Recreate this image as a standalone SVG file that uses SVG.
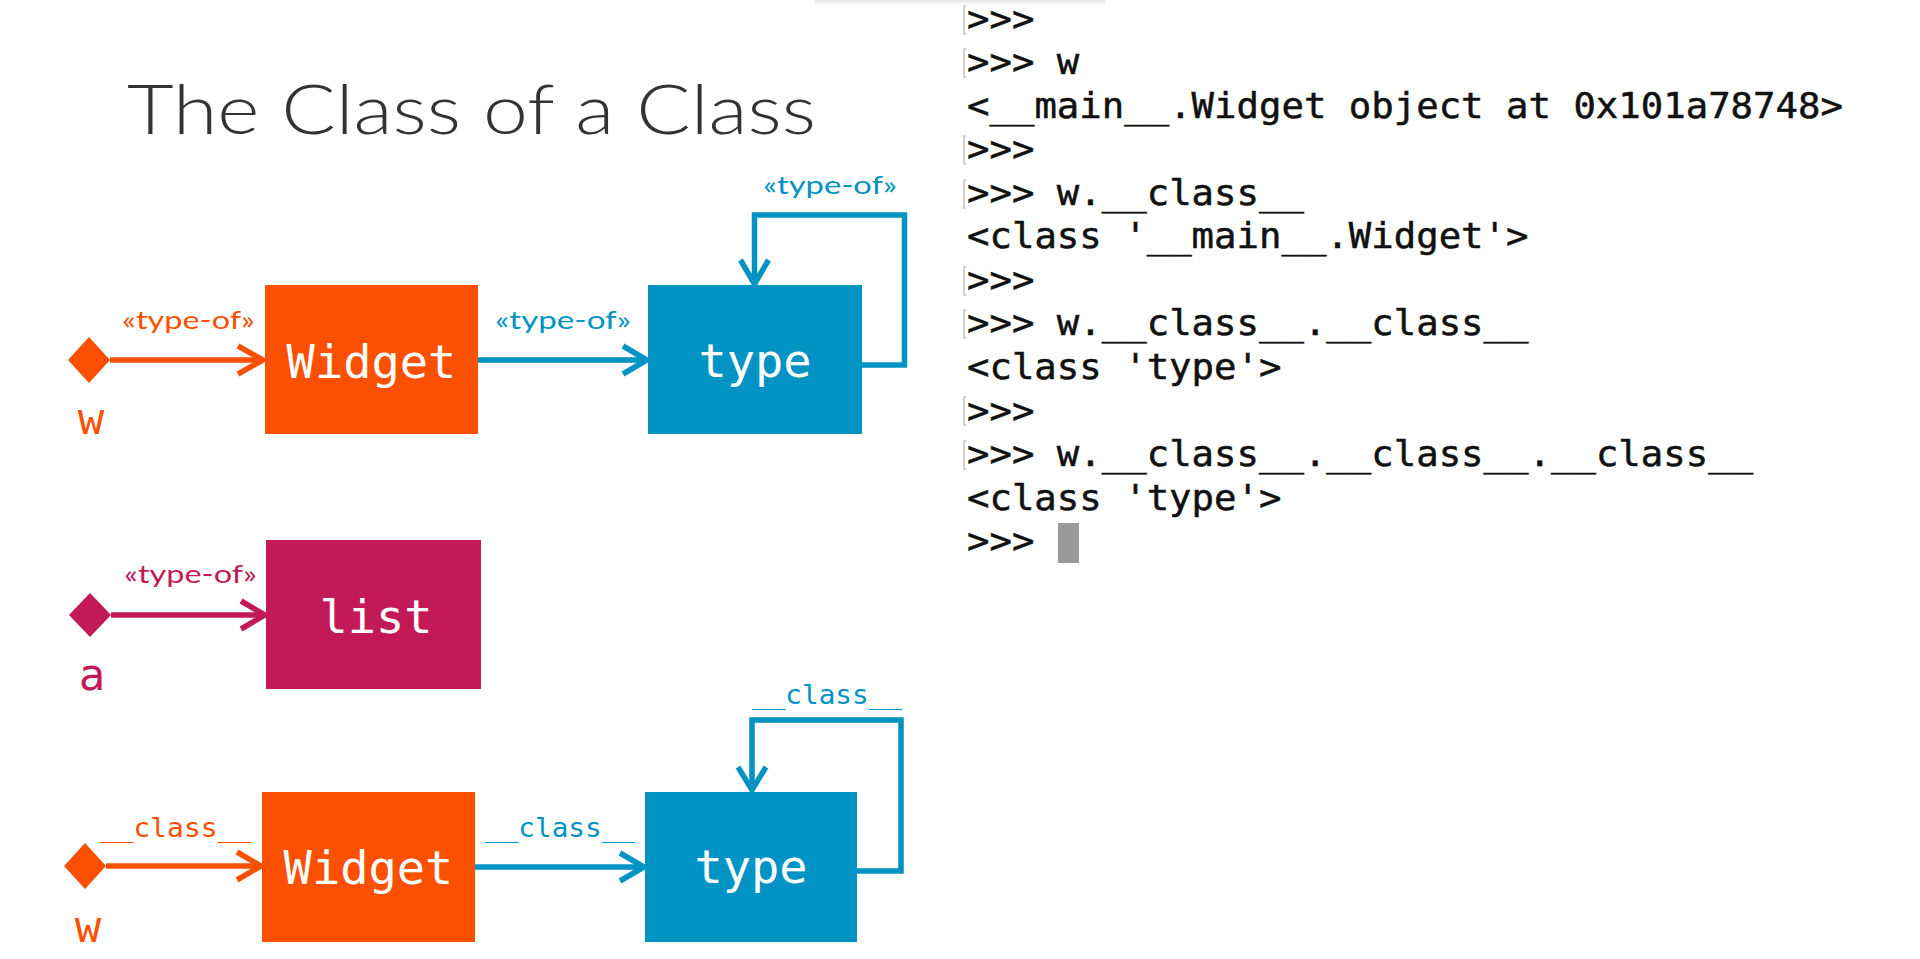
<svg xmlns="http://www.w3.org/2000/svg" width="1920" height="959" viewBox="0 0 1920 959">
<defs>
  <linearGradient id="topfade" x1="0" y1="0" x2="0" y2="1">
    <stop offset="0" stop-color="#e6e6e6"/>
    <stop offset="1" stop-color="#ffffff"/>
  </linearGradient>
</defs>
<style>
.bg{fill:#ffffff}
.title{font-family:"Lato","Open Sans","Liberation Sans",sans-serif;font-weight:300;font-size:68px;fill:#333333}
.box{stroke:none}
.or{fill:#FA5000}
.bl{fill:#0093C4}
.mg{fill:#C21A57}
.boxtxt{font-family:"DejaVu Sans Mono","Liberation Mono",monospace;font-size:47px;fill:#ffffff;text-anchor:middle}
.var{font-family:"DejaVu Sans Mono","Liberation Mono",monospace;font-size:44px;text-anchor:middle}
.lbl{font-family:"Lato","Open Sans","Liberation Sans",sans-serif;font-size:25px}
.mlbl{font-family:"DejaVu Sans Mono","Liberation Mono",monospace;font-size:27px}
.ln{fill:none;stroke-width:5.5;stroke-linejoin:miter;stroke-linecap:butt}
.sor{stroke:#FA5000}
.sbl{stroke:#0093C4}
.smg{stroke:#C21A57}
.term{font-family:"DejaVu Sans Mono","Liberation Mono",monospace;font-size:35px;fill:#111111;stroke:#111111;stroke-width:0.5}
.bar{stroke:#c4c4c4;stroke-width:1.5;fill:none}
</style>
<rect class="bg" x="0" y="0" width="1920" height="959"/>
<rect x="815" y="0" width="290" height="6" fill="url(#topfade)"/>

<text class="title" x="127" y="134" textLength="689" lengthAdjust="spacingAndGlyphs">The Class of a Class</text>

<g id="connectors">
  <!-- top row -->
  <path class="ln sor" d="M110,360 H262"/>
  <polyline class="ln sor" points="238,346 263,360 238,374"/>
  <path class="ln sbl" d="M478,360 H646"/>
  <polyline class="ln sbl" points="623,346 647,360 623,374"/>
  <path class="ln sbl" d="M862,365 H904.5 V215 H754.5 V283"/>
  <polyline class="ln sbl" points="740.5,260 754.5,284 768.5,260"/>
  <!-- middle row -->
  <path class="ln smg" d="M111,615 H264"/>
  <polyline class="ln smg" points="241,601 265,615 241,629"/>
  <!-- bottom row -->
  <path class="ln sor" d="M106,866 H260"/>
  <polyline class="ln sor" points="237,852 261,866 237,880"/>
  <path class="ln sbl" d="M475,867 H643"/>
  <polyline class="ln sbl" points="620,853 644,867 620,881"/>
  <path class="ln sbl" d="M857,871 H901 V720 H752 V789"/>
  <polyline class="ln sbl" points="738,767 752,790 766,767"/>
  <!-- labels -->
  <text class="lbl" x="122" y="329" fill="#FA5000" textLength="133" lengthAdjust="spacingAndGlyphs">«type-of»</text>
  <text class="lbl" x="495" y="329" fill="#0093C4" textLength="136" lengthAdjust="spacingAndGlyphs">«type-of»</text>
  <text class="lbl" x="763" y="194" fill="#0093C4" textLength="134" lengthAdjust="spacingAndGlyphs">«type-of»</text>
  <text class="lbl" x="124" y="583" fill="#C21A57" textLength="133" lengthAdjust="spacingAndGlyphs">«type-of»</text>
  <text class="mlbl" x="100" y="837" fill="#FA5000" textLength="151" lengthAdjust="spacingAndGlyphs">__class__</text>
  <text class="mlbl" x="485" y="837" fill="#0093C4" textLength="150" lengthAdjust="spacingAndGlyphs">__class__</text>
  <text class="mlbl" x="752" y="704" fill="#0093C4" textLength="150" lengthAdjust="spacingAndGlyphs">__class__</text>
</g>

<g id="w1">
  <polygon class="or" points="68,360 89,337 110,360 89,383"/>
  <text class="var or" x="91" y="434">w</text>
</g>
<g id="widget1">
  <rect class="box or" x="265" y="285" width="213" height="149"/>
  <text class="boxtxt" x="371.5" y="378">Widget</text>
</g>
<g id="type1">
  <rect class="box bl" x="648" y="285" width="214" height="149"/>
  <text class="boxtxt" x="755" y="377">type</text>
</g>

<g id="a">
  <polygon class="mg" points="69,615 90,593 111,615 90,637"/>
  <text class="var mg" x="92" y="690">a</text>
</g>
<g id="list">
  <rect class="box mg" x="266" y="540" width="215" height="149"/>
  <text class="boxtxt" x="376" y="633">list</text>
</g>

<g id="w2">
  <polygon class="or" points="64,866 85,843 106,866 85,889"/>
  <text class="var or" x="88" y="942">w</text>
</g>
<g id="widget2">
  <rect class="box or" x="262" y="792" width="213" height="150"/>
  <text class="boxtxt" x="368.5" y="884">Widget</text>
</g>
<g id="type2">
  <rect class="box bl" x="645" y="792" width="212" height="150"/>
  <text class="boxtxt" x="751" y="883">type</text>
</g>

<g id="terminal">
  <path class="bar" d="M966,6 H964 V34 H966"/>
  <path class="bar" d="M966,49 H964 V77 H966"/>
  <path class="bar" d="M966,136 H964 V164 H966"/>
  <path class="bar" d="M966,180 H964 V208 H966"/>
  <path class="bar" d="M966,267 H964 V295 H966"/>
  <path class="bar" d="M966,310 H964 V338 H966"/>
  <path class="bar" d="M966,397 H964 V425 H966"/>
  <path class="bar" d="M966,441 H964 V469 H966"/>
  <text class="term" x="967" y="30.5" textLength="67.4" lengthAdjust="spacingAndGlyphs">&gt;&gt;&gt;</text>
  <text class="term" x="967" y="74" textLength="112.3" lengthAdjust="spacingAndGlyphs">&gt;&gt;&gt; w</text>
  <text class="term" x="967" y="117.6" textLength="875.9" lengthAdjust="spacingAndGlyphs">&lt;__main__.Widget object at 0x101a78748&gt;</text>
  <text class="term" x="967" y="161.2" textLength="67.4" lengthAdjust="spacingAndGlyphs">&gt;&gt;&gt;</text>
  <text class="term" x="967" y="204.7" textLength="336.9" lengthAdjust="spacingAndGlyphs">&gt;&gt;&gt; w.__class__</text>
  <text class="term" x="967" y="248.3" textLength="561.5" lengthAdjust="spacingAndGlyphs">&lt;class '__main__.Widget'&gt;</text>
  <text class="term" x="967" y="291.8" textLength="67.4" lengthAdjust="spacingAndGlyphs">&gt;&gt;&gt;</text>
  <text class="term" x="967" y="335.4" textLength="561.5" lengthAdjust="spacingAndGlyphs">&gt;&gt;&gt; w.__class__.__class__</text>
  <text class="term" x="967" y="378.9" textLength="314.4" lengthAdjust="spacingAndGlyphs">&lt;class 'type'&gt;</text>
  <text class="term" x="967" y="422.5" textLength="67.4" lengthAdjust="spacingAndGlyphs">&gt;&gt;&gt;</text>
  <text class="term" x="967" y="466" textLength="786.1" lengthAdjust="spacingAndGlyphs">&gt;&gt;&gt; w.__class__.__class__.__class__</text>
  <text class="term" x="967" y="509.6" textLength="314.4" lengthAdjust="spacingAndGlyphs">&lt;class 'type'&gt;</text>
  <text class="term" x="967" y="553.1" textLength="67.4" lengthAdjust="spacingAndGlyphs">&gt;&gt;&gt;</text>
  <rect x="1058" y="523" width="21" height="40" fill="#9a9a9a"/>
</g>
</svg>
